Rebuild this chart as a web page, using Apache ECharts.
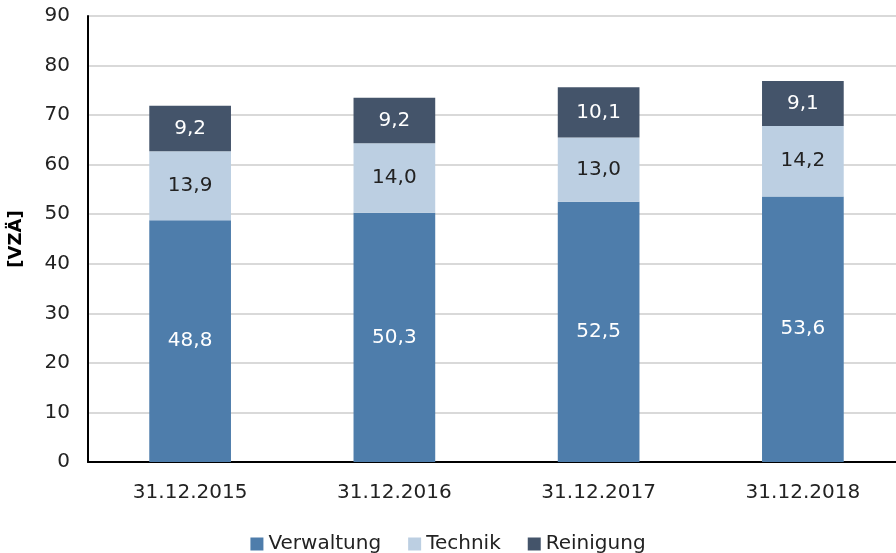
<!DOCTYPE html>
<html>
<head>
<meta charset="utf-8">
<script src="https://cdn.jsdelivr.net/npm/echarts@6/dist/echarts.min.js"></script>
<style>
  html, body { margin: 0; padding: 0; background: #fff; }
  #chart { width: 896px; height: 553px; }
</style>
</head>
<body>
<div id="chart"></div>
<script>
// Stichtage und Werte [VZÄ]
const stichtage = ["31.12.2015", "31.12.2016", "31.12.2017", "31.12.2018"];
const verwaltung = [48.8, 50.3, 52.5, 53.6];
const technik = [13.9, 14.0, 13.0, 14.2];
const reinigung = [9.2, 9.2, 10.1, 9.1];

const schrift = "DejaVu Sans, Verdana, sans-serif";
const groesse = 20;

function komma(p) {
  return p.value.toFixed(1).replace(".", ",");
}

function reihe(name, daten, farbe, textFarbe) {
  return {
    name: name,
    type: "bar",
    stack: "gesamt",
    barWidth: "40%",
    data: daten,
    itemStyle: { color: farbe },
    label: {
      show: true,
      position: "inside",
      formatter: komma,
      color: textFarbe,
      fontFamily: schrift,
      fontSize: groesse
    }
  };
}

let myChart = echarts.init(document.getElementById("chart"));

let option = {
  animation: false,
  textStyle: { fontFamily: schrift },
  grid: {
    left: 88,
    right: -9,
    top: 16,
    bottom: 91,
    outerBoundsMode: "none"
  },
  legend: {
    top: 529,
    left: "center",
    itemWidth: 13,
    itemHeight: 13,
    itemGap: 27,
    icon: "rect",
    textStyle: { fontFamily: schrift, fontSize: groesse, color: "#222" },
    data: ["Verwaltung", "Technik", "Reinigung"]
  },
  xAxis: {
    type: "category",
    data: stichtage,
    axisLine: { lineStyle: { color: "#000", width: 2 } },
    axisTick: { show: false },
    axisLabel: { fontFamily: schrift, fontSize: groesse, color: "#222", margin: 21 }
  },
  yAxis: {
    type: "value",
    min: 0,
    max: 90,
    interval: 10,
    name: "[VZÄ]",
    nameLocation: "middle",
    nameGap: 63,
    nameTextStyle: { fontFamily: schrift, fontSize: 18, fontWeight: "bold", color: "#000" },
    axisLine: { show: true, lineStyle: { color: "#000", width: 2 } },
    axisTick: { show: false },
    axisLabel: { fontFamily: schrift, fontSize: groesse, color: "#222", margin: 18 },
    splitLine: { lineStyle: { color: "#d9d9d9", width: 2 } }
  },
  series: [
    reihe("Verwaltung", verwaltung, "#4e7dab", "#fff"),
    reihe("Technik", technik, "#bccfe2", "#222"),
    reihe("Reinigung", reinigung, "#44546a", "#fff")
  ]
};

myChart.setOption(option);
</script>
</body>
</html>
